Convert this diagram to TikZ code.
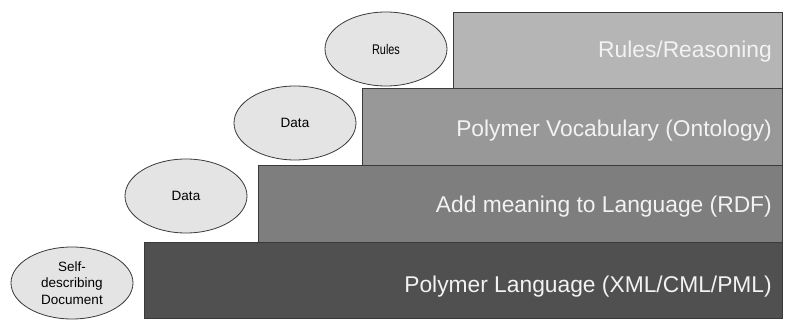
\documentclass[tikz,border=0pt]{standalone}
\usepackage{fontspec}
\setmainfont{Liberation Sans}
\newfontfamily\narrowfont[FakeStretch=0.78]{Liberation Sans}
\definecolor{edge}{HTML}{3A3A3A}
\definecolor{lvlA}{HTML}{B5B5B5}
\definecolor{lvlB}{HTML}{989898}
\definecolor{lvlC}{HTML}{7E7E7E}
\definecolor{lvlD}{HTML}{505050}
\definecolor{ovalfill}{HTML}{E4E4E4}
\definecolor{lbl}{HTML}{F2F2F2}
\begin{document}
\begin{tikzpicture}[x=1pt,y=-1pt,
  layer/.style={draw=edge,line width=0.9pt},
  layertext/.style={anchor=base east,text=lbl,inner sep=0pt,font=\fontsize{22.8}{27}\selectfont},
  oval/.style={ellipse,draw=edge,fill=ovalfill,line width=0.8pt,minimum width=122pt,minimum height=74pt,inner sep=0pt,align=center,font=\fontsize{13.5}{16.5}\selectfont}]
\usetikzlibrary{shapes.geometric}
\useasboundingbox (0,0) rectangle (785,320);
% layers
\path[layer,fill=lvlD] (144.5,242.3) rectangle (782,318.5);
\path[layer,fill=lvlC] (258,165.5) rectangle (782,242.3);
\path[layer,fill=lvlB] (362.5,88.5) rectangle (782,165.5);
\path[layer,fill=lvlA] (453,12.5) rectangle (782,88.5);
\node[layertext] (t4) at (772,57.9) {Rules/Reasoning};
\node[layertext] (t3) at (772,136.2) {Polymer Vocabulary (Ontology)};
\node[layertext] (t2) at (772,212.9) {Add meaning to Language (RDF)};
\node[layertext] (t1) at (772,292.9) {Polymer Language (XML/CML/PML)};
% ovals
\node[oval,font=\narrowfont\fontsize{14}{16}\selectfont] (rules) at (386,49) {Rules};
\node[oval] (data2) at (295,123) {Data};
\node[oval] (data1) at (186,196) {Data};
\node[oval,minimum height=72pt] (selfdoc) at (72,283) {Self-\\describing\\Document};
\end{tikzpicture}
\end{document}
